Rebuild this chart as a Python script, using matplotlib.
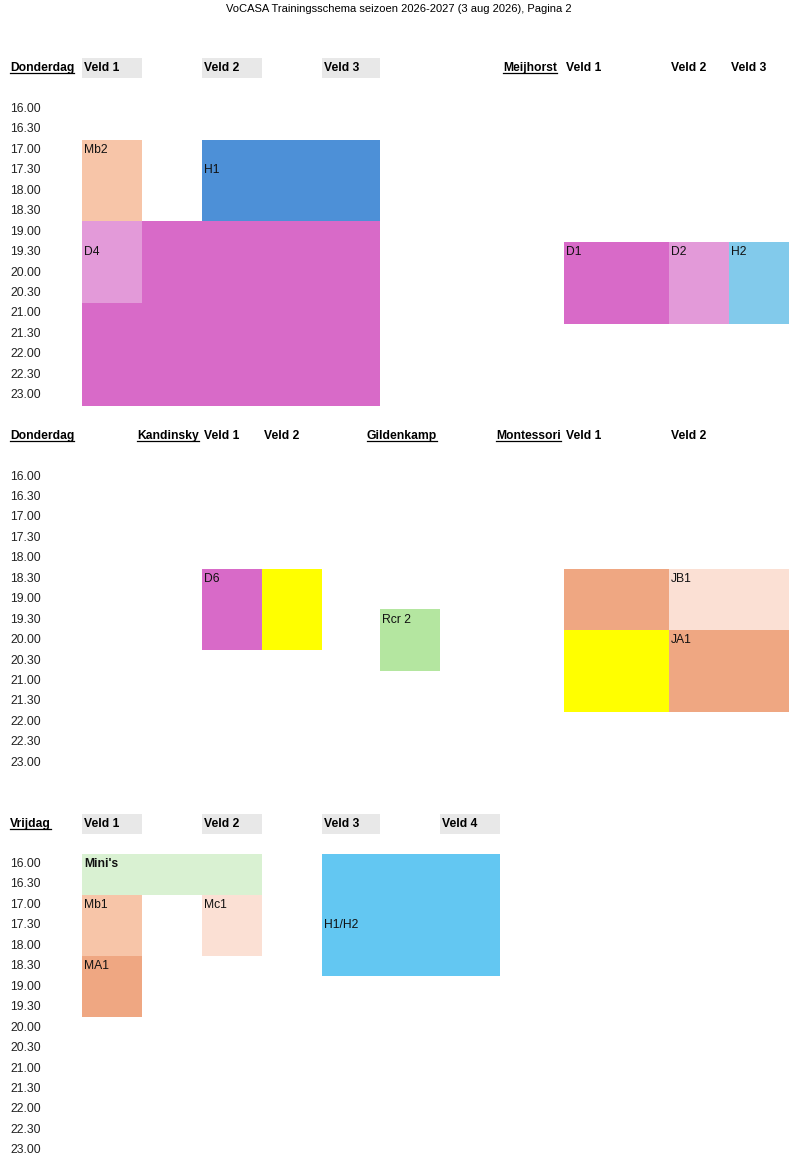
import matplotlib
matplotlib.use("Agg")
import matplotlib.pyplot as plt
from matplotlib.patches import Rectangle

plt.rcParams['font.family'] = ['Liberation Sans', 'DejaVu Sans']

# ---- data ----
title = "VoCASA Trainingsschema seizoen 2026-2027 (3 aug 2026), Pagina 2"
times = ["16.00", "16.30", "17.00", "17.30", "18.00", "18.30", "19.00", "19.30",
         "20.00", "20.30", "21.00", "21.30", "22.00", "22.30", "23.00"]

# headers per section
s1_days = "Donderdag"
s1_head_text = ["Veld 1", "Veld 2", "Veld 3", "Meijhorst", "Veld 1", "Veld 2", "Veld 3"]
s1_head_col = ["B", "D", "F", "I", "J", "K", "L"]
s1_head_gray = [True, True, True, False, False, False, False]
s1_head_loc = [False, False, False, True, False, False, False]

s2_days = "Donderdag"
s2_head_text = ["Kandinsky", "Veld 1", "Veld 2", "Gildenkamp", "Montessori", "Veld 1", "Veld 2"]
s2_head_col = ["C", "D", "E", "G", "I", "J", "K"]
s2_head_gray = [False] * 7
s2_head_loc = [True, False, False, True, True, False, False]

s3_days = "Vrijdag"
s3_head_text = ["Veld 1", "Veld 2", "Veld 3", "Veld 4"]
s3_head_col = ["B", "D", "F", "H"]
s3_head_gray = [True, True, True, True]
s3_head_loc = [False] * 4

# blocks: team, first col, last col, start, end, row of the label
s1_team = ["", "Mb2", "H1", "D4", "D1", "D2", "H2"]
s1_c0 = ["B", "B", "D", "B", "J", "K", "L"]
s1_c1 = ["F", "B", "F", "B", "J", "K", "L"]
s1_t0 = ["19.00", "17.00", "17.00", "19.00", "19.30", "19.30", "19.30"]
s1_t1 = ["23.00", "18.30", "18.30", "20.30", "21.00", "21.00", "21.00"]
s1_tl = ["19.00", "17.00", "17.30", "19.30", "19.30", "19.30", "19.30"]
s1_col = ["#D86AC8", "#F7C5A8", "#4D90D7", "#E39AD9", "#D86AC8", "#E39AD9", "#82CAEB"]

s2_team = ["D6", "", "Rcr 2", "", "JB1", "", "JA1"]
s2_c0 = ["D", "E", "G", "J", "K", "J", "K"]
s2_c1 = ["D", "E", "G", "J", "L", "J", "L"]
s2_t0 = ["18.30", "18.30", "19.30", "18.30", "18.30", "20.00", "20.00"]
s2_t1 = ["20.00", "20.00", "20.30", "19.30", "19.30", "21.30", "21.30"]
s2_tl = ["18.30", "18.30", "19.30", "18.30", "18.30", "20.00", "20.00"]
s2_col = ["#D86AC8", "#FFFF00", "#B4E6A0", "#EFA782", "#FBE0D4", "#FFFF00", "#EFA782"]

s3_team = ["Mini's", "Mb1", "MA1", "Mc1", "H1/H2"]
s3_c0 = ["B", "B", "B", "D", "F"]
s3_c1 = ["D", "B", "B", "D", "H"]
s3_t0 = ["16.00", "17.00", "18.30", "17.00", "16.00"]
s3_t1 = ["16.30", "18.00", "19.30", "18.00", "18.30"]
s3_tl = ["16.00", "17.00", "18.30", "17.00", "17.30"]
s3_col = ["#D9F1D2", "#F7C5A8", "#EFA782", "#FBE0D4", "#63C7F2"]
s3_bold = [True, False, False, False, False]

# ---- layout (pixels) ----
col_edges = {"A": 8, "B": 82, "C": 142, "D": 202, "E": 262, "F": 322, "G": 380,
             "H": 440, "I": 500, "J": 564, "K": 669, "L": 729, "M": 789}
col_order = list(col_edges.keys())
rh = 20.45
fs = 8.7

fig = plt.figure(figsize=(7.98, 11.63), dpi=100)
ax = fig.add_axes([0, 0, 1, 1])
ax.set_xlim(0, 798)
ax.set_ylim(1163, 0)
ax.axis('off')


def right_edge(c):
    return col_edges[col_order[col_order.index(c) + 1]]


underlined = []


def section(head_y, row0, day, h_text, h_col, h_gray, h_loc,
            team, c0, c1, t0, t1, tl, colors, bold=None, loc_pad=3):
    t = ax.text(10, head_y, day, fontsize=fs, fontweight='bold', va='center')
    underlined.append(t)
    for txt, c, g, loc in zip(h_text, h_col, h_gray, h_loc):
        x0, x1 = col_edges[c], right_edge(c)
        if g:
            ax.add_patch(Rectangle((x0, head_y - 10), x1 - x0, 20,
                                   color='#E8E8E8', lw=0))
        if loc:
            t = ax.text(x1 - loc_pad, head_y, txt, fontsize=fs, fontweight='bold',
                        va='center', ha='right')
            underlined.append(t)
        else:
            ax.text(x0 + 2, head_y, txt, fontsize=fs, fontweight='bold', va='center')
    for i, tm in enumerate(times):
        ax.text(10, row0 + i * rh, tm, fontsize=fs, va='center', color='#222222')
    for k in range(len(team)):
        x0, x1 = col_edges[c0[k]], right_edge(c1[k])
        r0, r1 = times.index(t0[k]), times.index(t1[k])
        y0 = row0 + (r0 - 0.5) * rh
        y1 = row0 + (r1 + 0.5) * rh
        ax.add_patch(Rectangle((x0, y0), x1 - x0, y1 - y0, color=colors[k], lw=0))
        if team[k]:
            yl = row0 + times.index(tl[k]) * rh
            fw = 'bold' if bold is not None and bold[k] else 'normal'
            ax.text(x0 + 2, yl, team[k], fontsize=fs, va='center', fontweight=fw,
                    color='#111111')


ax.text(399, 9, title, fontsize=8.0, ha='center', va='center')

section(68, 109, s1_days, s1_head_text, s1_head_col, s1_head_gray, s1_head_loc,
        s1_team, s1_c0, s1_c1, s1_t0, s1_t1, s1_tl, s1_col, loc_pad=7)
section(436, 476.5, s2_days, s2_head_text, s2_head_col, s2_head_gray, s2_head_loc,
        s2_team, s2_c0, s2_c1, s2_t0, s2_t1, s2_tl, s2_col)
section(824, 864, s3_days, s3_head_text, s3_head_col, s3_head_gray, s3_head_loc,
        s3_team, s3_c0, s3_c1, s3_t0, s3_t1, s3_tl, s3_col, s3_bold)

# underline the day / location headers
fig.canvas.draw()
renderer = fig.canvas.get_renderer()
inv = ax.transData.inverted()
for t in underlined:
    bb = t.get_window_extent(renderer)
    (xa, ya), (xb, yb) = inv.transform([(bb.x0, bb.y0), (bb.x1, bb.y0)])
    ax.plot([xa, xb], [ya - 1, yb - 1], color='black', lw=0.9)

fig.savefig("out.png", dpi=100)
